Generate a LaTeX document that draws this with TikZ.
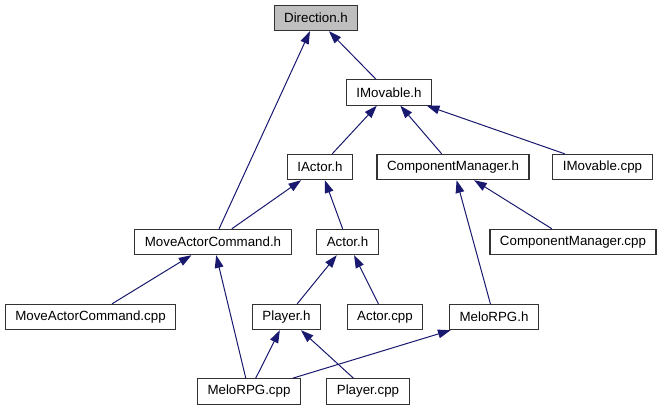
\documentclass[tikz,border=0pt]{standalone}
\usepackage{fontspec}
\setmainfont{Liberation Sans}
\usepackage{xcolor}
\usepackage{tikz}
\usetikzlibrary{positioning,arrows.meta}
\definecolor{edgeblue}{HTML}{191970}
\definecolor{boxborder}{HTML}{333333}
\definecolor{rootgray}{HTML}{BFBFBF}
\tikzset{
    filebox/.style={
        draw=boxborder, fill=white, line width=0.8pt,
        minimum height=19pt, inner xsep=7.5pt, inner ysep=0pt,
        font=\fontsize{10pt}{12pt}\selectfont, align=center
    },
    rootbox/.style={
        filebox, fill=rootgray
    },
    incl/.style={-{Triangle[length=9.5pt,width=6.5pt]}, line width=0.75pt, color=edgeblue},
}
\begin{document}
\begin{tikzpicture}[x=0.75pt, y=-0.75pt]
        \useasboundingbox (0,0) rectangle (661,411);
        \fill[white] (0,0) rectangle (661,411);
        % headers and sources, row by row
        \node[rootbox] (dirh) at (316,18) {Direction.h};
        \node[filebox] (imovh) at (389,92.5) {IMovable.h};
        \node[filebox] (iactorh) at (320,167) {IActor.h};
        \node[filebox] (compmgrh) at (453,167) {ComponentManager.h};
        \node[filebox] (imovcpp) at (602.5,167) {IMovable.cpp};
        \node[filebox] (moveacth) at (213,242) {MoveActorCommand.h};
        \node[filebox] (actorh) at (347.5,242) {Actor.h};
        \node[filebox] (compmgrcpp) at (573,242) {ComponentManager.cpp};
        \node[filebox] (moveactcpp) at (90.5,317) {MoveActorCommand.cpp};
        \node[filebox] (playerh) at (286.5,317) {Player.h};
        \node[filebox] (actorcpp) at (385,317) {Actor.cpp};
        \node[filebox] (melorpgh) at (494,317) {MeloRPG.h};
        \node[filebox] (melorpgcpp) at (249,391.5) {MeloRPG.cpp};
        \node[filebox] (playercpp) at (368,391.5) {Player.cpp};
        % include edges
        \draw[incl] (imovh) -- (dirh);
        \draw[incl] (moveacth) -- (dirh);
        \draw[incl] (iactorh) -- (imovh);
        \draw[incl] (compmgrh) -- (imovh);
        \draw[incl] (imovcpp) -- (imovh);
        \draw[incl] (moveacth) -- (iactorh);
        \draw[incl] (actorh) -- (iactorh);
        \draw[incl] (melorpgh) -- (compmgrh);
        \draw[incl] (compmgrcpp) -- (compmgrh);
        \draw[incl] (moveactcpp) -- (moveacth);
        \draw[incl] (melorpgcpp) -- (moveacth);
        \draw[incl] (playerh) -- (actorh);
        \draw[incl] (actorcpp) -- (actorh);
        \draw[incl] (melorpgcpp) -- (playerh);
        \draw[incl] (playercpp) -- (playerh);
        \draw[incl] (melorpgcpp) -- (melorpgh);
    \end{tikzpicture}
\end{document}
